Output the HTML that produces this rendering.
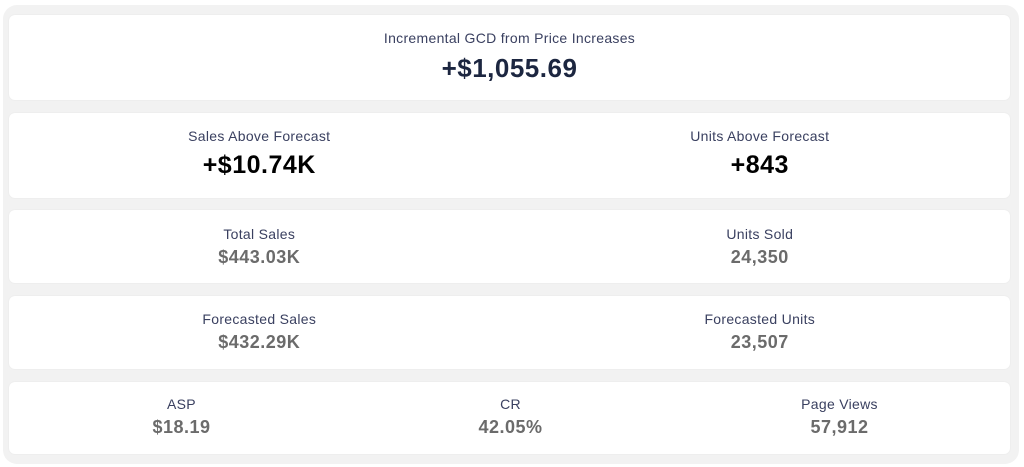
<!DOCTYPE html>
<html><head><meta charset="utf-8"><style>
*{box-sizing:border-box;margin:0;padding:0}
body{width:1024px;height:467px;background:#fff;font-family:"Liberation Sans",sans-serif;position:relative;overflow:hidden}
.wrap{position:absolute;left:3px;top:5px;width:1016px;height:459px;background:#f2f2f2;border-radius:14px}
.card{position:absolute;left:9px;width:1001px;background:#fff;border-radius:6px;display:flex;box-shadow:0 0 2px rgba(0,0,0,.05)}
.col{flex:1;text-align:center}
.lbl{font-size:14px;letter-spacing:0.3px;color:#3a4060}
.v1{font-size:26px;letter-spacing:0.5px;font-weight:bold;color:#1c2640;margin-top:7px}
.v2{font-size:25px;letter-spacing:0.5px;font-weight:bold;color:#000;margin-top:7px}
.v3{font-size:18px;letter-spacing:0.5px;font-weight:bold;color:#6b6b6b;margin-top:5px}
</style></head><body>
<div class="wrap"></div>
<div class="card" style="top:15px;height:85px;padding-top:15px"><div class="col"><div class="lbl">Incremental GCD from Price Increases</div><div class="v1">+$1,055.69</div></div></div>
<div class="card" style="top:113px;height:85px;padding-top:15px"><div class="col"><div class="lbl">Sales Above Forecast</div><div class="v2">+$10.74K</div></div><div class="col"><div class="lbl">Units Above Forecast</div><div class="v2">+843</div></div></div>
<div class="card" style="top:210px;height:73px;padding-top:16px"><div class="col"><div class="lbl">Total Sales</div><div class="v3">$443.03K</div></div><div class="col"><div class="lbl">Units Sold</div><div class="v3">24,350</div></div></div>
<div class="card" style="top:296px;height:73px;padding-top:15px"><div class="col"><div class="lbl">Forecasted Sales</div><div class="v3">$432.29K</div></div><div class="col"><div class="lbl">Forecasted Units</div><div class="v3">23,507</div></div></div>
<div class="card" style="top:382px;height:72px;padding-top:14px"><div class="col" style="padding-left:8px"><div class="lbl">ASP</div><div class="v3">$18.19</div></div><div class="col"><div class="lbl">CR</div><div class="v3">42.05%</div></div><div class="col" style="padding-right:6px"><div class="lbl">Page Views</div><div class="v3">57,912</div></div></div>
</body></html>
